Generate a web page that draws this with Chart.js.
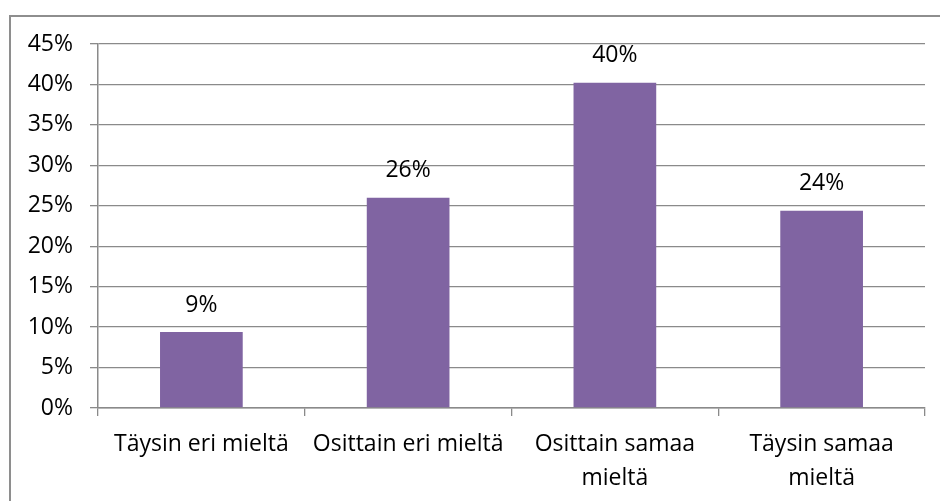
<!DOCTYPE html>
<html>
<head>
<meta charset="utf-8">
<title>Vastausten jakauma</title>
<script src="https://cdn.jsdelivr.net/npm/chart.js@4.4.1/dist/chart.umd.min.js"></script>
<style>
  html, body { margin: 0; padding: 0; background: #fff; overflow: hidden; }
  #frame {
    position: absolute; left: 9px; top: 15px; width: 960px; height: 520px;
    border-left: 2px solid #8e8e8e; border-top: 2px solid #8e8e8e;
  }
  #wrap { position: absolute; left: 0; top: 0; width: 940px; height: 501px; }
</style>
</head>
<body>
<div id="frame"></div>
<div id="wrap"><canvas id="chart" width="940" height="501"></canvas></div>
<script>
// vastausvaihtoehdot ja osuudet (%)
const answers = [
  'Täysin eri mieltä',
  'Osittain eri mieltä',
  ['Osittain samaa', 'mieltä'],
  ['Täysin samaa', 'mieltä']
];
const shares = [9.4, 26, 40.2, 24.4];
const yTicks = [0, 5, 10, 15, 20, 25, 30, 35, 40, 45];

const FONT = '"Open Sans", sans-serif';
const GRID = '#8a8a8a';

// arvot pylväiden yläpuolelle
const valueLabels = {
  id: 'valueLabels',
  afterDatasetsDraw(chart) {
    const ctx = chart.ctx;
    const meta = chart.getDatasetMeta(0);
    ctx.save();
    ctx.font = '23px ' + FONT;
    ctx.fillStyle = '#000';
    ctx.textAlign = 'center';
    ctx.textBaseline = 'middle';
    meta.data.forEach((bar, i) => {
      ctx.fillText(Math.round(shares[i]) + '%', bar.x, bar.y - 27);
    });
    ctx.restore();
  }
};

new Chart(document.getElementById('chart'), {
  type: 'bar',
  data: {
    labels: answers,
    datasets: [{
      data: shares,
      backgroundColor: '#8064a2',
      categoryPercentage: 1,
      barPercentage: 0.4
    }]
  },
  options: {
    responsive: false,
    devicePixelRatio: 1,
    animation: false,
    layout: { padding: { top: 44, right: 15, left: 0, bottom: 0 } },
    plugins: {
      legend: { display: false },
      tooltip: { enabled: false }
    },
    scales: {
      y: {
        min: 0,
        max: 45,
        afterBuildTicks: s => { s.ticks = yTicks.map(v => ({ value: v })); },
        afterFit: s => { s.width = 98; },
        ticks: {
          color: '#000',
          padding: 17,
          font: { family: FONT, size: 23 },
          callback: v => v + '%'
        },
        grid: { color: GRID, lineWidth: 1.3, tickLength: 8 },
        border: { color: GRID, width: 1.5 }
      },
      x: {
        afterFit: s => { s.height = 93; },
        ticks: {
          color: '#000',
          padding: 11,
          maxRotation: 0,
          autoSkip: false,
          font: { family: FONT, size: 23, lineHeight: 1.48 }
        },
        grid: { drawOnChartArea: false, color: GRID, lineWidth: 1.3, tickLength: 8 },
        border: { color: GRID, width: 1.5 }
      }
    }
  },
  plugins: [valueLabels]
});
</script>
</body>
</html>
